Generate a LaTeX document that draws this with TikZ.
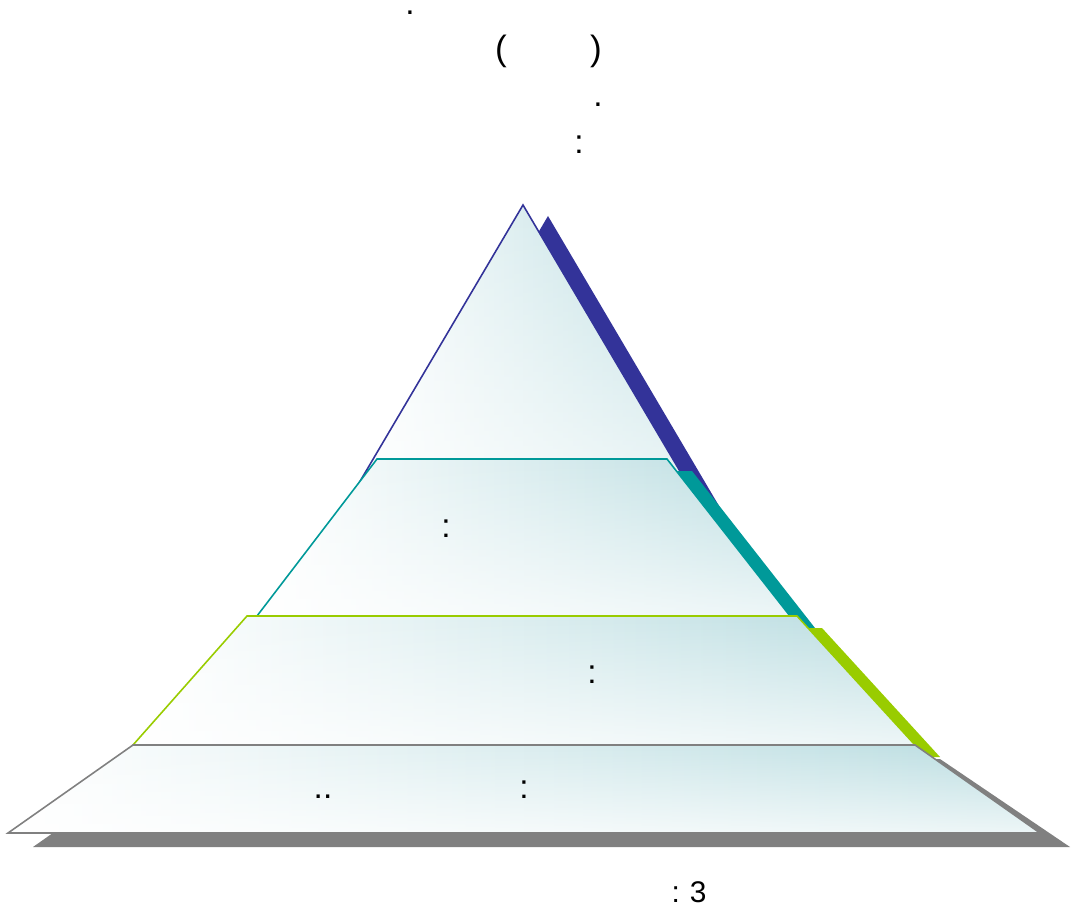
\documentclass[tikz,border=0pt]{standalone}
\usepackage{fontspec}
\setmainfont{Liberation Sans}
\usetikzlibrary{fadings}
\definecolor{pblue}{HTML}{333399}
\definecolor{pteal}{HTML}{009999}
\definecolor{pgreen}{HTML}{99CC00}
\definecolor{pgray}{HTML}{808080}
\definecolor{ptint}{RGB}{184,220,224}
\tikzset{
  layer/.style={left color=white, right color=ptint,
    postaction={fill=white, path fading=north, fill opacity=0.75},
    postaction={draw=#1, line width=0.9pt, line join=miter}},
  shadowfill/.style={fill=#1, draw=none},
  lbl/.style={font=\fontsize{19}{22}\selectfont, inner sep=1pt, text=black}
}
\begin{document}
\begin{tikzpicture}[x=0.02cm,y=-0.02cm]
\useasboundingbox (0,0) rectangle (1072,912);
% top triangle
\fill[shadowfill=pblue] (548,216) -- (722,511) -- (374,511) -- cycle;
\shade[layer=pblue] (523,205) -- (697,500) -- (349,500) -- cycle;
% second layer
\fill[shadowfill=pteal] (402,471) -- (692,471) -- (815,628) -- (282,628) -- cycle;
\shade[layer=pteal] (377,459) -- (667,459) -- (790,616) -- (257,616) -- cycle;
% third layer
\fill[shadowfill=pgreen] (272,628) -- (822,628) -- (940,757) -- (158,757) -- cycle;
\shade[layer=pgreen] (247,616) -- (797,616) -- (915,745) -- (133,745) -- cycle;
% bottom layer
\fill[shadowfill=pgray] (158,759) -- (940,759) -- (1070,847) -- (33,847) -- cycle;
\shade[layer=pgray] (133,745) -- (915,745) -- (1040,833) -- (8,833) -- cycle;
% texts
\node[lbl] (t1) at (410,13) {.};
\node[lbl, font=\fontsize{20}{24}\selectfont] (t2) at (501,51) {(};
\node[lbl, font=\fontsize{20}{24}\selectfont] (t3) at (596,51) {)};
\node[lbl] (t4) at (598,105) {.};
\node[lbl] (t5) at (579,145) {:};
\node[lbl] (t6) at (446,529) {:};
\node[lbl] (t7) at (592,675) {:};
\node[lbl] (t8) at (323,797) {..};
\node[lbl] (t9) at (524,790) {:};
\node[lbl, font=\fontsize{17}{20}\selectfont] (t10) at (689,892) {:\,\,3};
\end{tikzpicture}
\end{document}
